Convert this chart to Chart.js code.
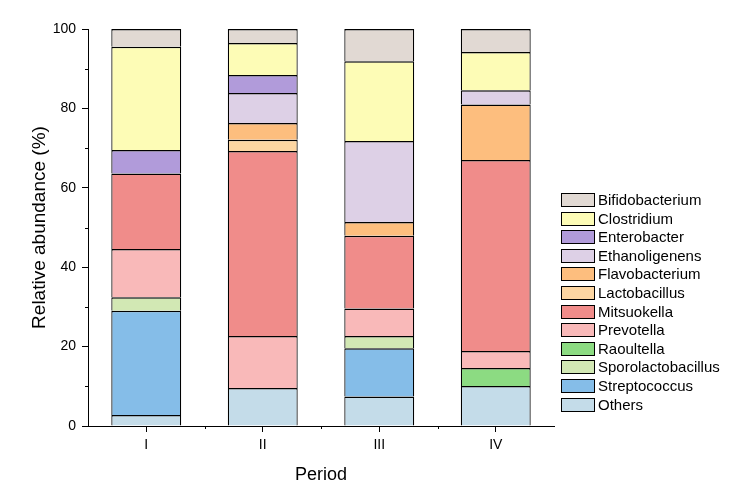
<!DOCTYPE html>
<html>
<head>
<meta charset="utf-8">
<title>Relative abundance by period</title>
<script src="https://cdn.jsdelivr.net/npm/chart.js@4.4.1/dist/chart.umd.min.js"></script>
<style>
  html, body { margin: 0; padding: 0; background: #fff; }
  #wrap { width: 751px; height: 486px; }
</style>
</head>
<body>
<div id="wrap"><canvas id="abundanceChart" width="751" height="486"></canvas></div>
<script>
// Categories (x axis)
const periods = ['I', 'II', 'III', 'IV'];

// Genera, stacked from bottom to top
const genera = ['Others', 'Streptococcus', 'Sporolactobacillus', 'Raoultella', 'Prevotella',
    'Mitsuokella', 'Lactobacillus', 'Flavobacterium', 'Ethanoligenens', 'Enterobacter',
    'Clostridium', 'Bifidobacterium'];

// Relative abundance (%) per genus, for periods I..IV
const others             = [2.8, 9.6, 7.4, 10.1];
const streptococcus      = [26.2, 0, 12.2, 0];
const sporolactobacillus = [3.4, 0, 3.1, 0];
const raoultella         = [0, 0, 0, 4.5];
const prevotella         = [12.2, 13.1, 6.9, 4.3];
const mitsuokella        = [19.0, 46.6, 18.3, 48.1];
const lactobacillus      = [0, 2.8, 0, 0];
const flavobacterium     = [0, 4.2, 3.5, 14.0];
const ethanoligenens     = [0, 7.6, 20.4, 3.6];
const enterobacter       = [5.9, 4.5, 0, 0];
const clostridium        = [26.0, 8.1, 20.1, 9.6];
const bifidobacterium    = [4.5, 3.5, 8.1, 5.8];

const seriesValues = [others, streptococcus, sporolactobacillus, raoultella, prevotella,
    mitsuokella, lactobacillus, flavobacterium, ethanoligenens, enterobacter,
    clostridium, bifidobacterium];

// Y axis ticks
const yTickLabels = [0, 20, 40, 60, 80, 100];

// Fill colours, same order as genera
const colors = ['#c4dce9', '#85bde8', '#d2e8b4', '#8cdb82', '#f9b9b9',
    '#f08c8a', '#fdd6a2', '#fdbe7e', '#ddd0e6', '#b19bda',
    '#fdfcb6', '#e1d9d3'];

const FONT = 'Arial, "Liberation Sans", sans-serif';

// Minor ticks on both axes
const minorTicks = {
    id: 'minorTicks',
    afterDraw(chart) {
        const ctx = chart.ctx;
        const x = chart.scales.x;
        const y = chart.scales.y;
        ctx.save();
        ctx.strokeStyle = '#000';
        ctx.lineWidth = 1;
        ctx.beginPath();
        for (let v = 10; v < 100; v += 20) {
            const py = Math.round(y.getPixelForValue(v)) + 0.5;
            ctx.moveTo(x.left - 3, py);
            ctx.lineTo(x.left, py);
        }
        const step = (x.right - x.left) / periods.length;
        for (let i = 1; i < periods.length; i++) {
            const px = Math.round(x.left + step * i) + 0.5;
            ctx.moveTo(px, y.bottom);
            ctx.lineTo(px, y.bottom + 3);
        }
        ctx.stroke();
        ctx.restore();
    }
};

// Legend on the right, top entry is the top of the stack
const sideLegend = {
    id: 'sideLegend',
    afterDraw(chart) {
        const ctx = chart.ctx;
        const left = 561, top = 193, rowH = 18.6, boxW = 33, boxH = 13;
        ctx.save();
        ctx.font = '15px ' + FONT;
        ctx.textBaseline = 'middle';
        ctx.textAlign = 'left';
        for (let i = 0; i < genera.length; i++) {
            const k = genera.length - 1 - i;
            const yy = Math.round(top + i * rowH);
            ctx.fillStyle = colors[k];
            ctx.fillRect(left, yy, boxW, boxH);
            ctx.strokeStyle = '#000';
            ctx.lineWidth = 1;
            ctx.strokeRect(left + 0.5, yy + 0.5, boxW, boxH);
            ctx.fillStyle = '#000';
            ctx.fillText(genera[k], left + boxW + 4, yy + boxH / 2 + 1);
        }
        ctx.restore();
    }
};

function initChart() {
    const ctx = document.getElementById('abundanceChart').getContext('2d');

    // zero shares are left out so they leave no border line in the stack;
    // each segment draws only its top and sides so boundaries stay single lines
    const datasets = genera.map((name, i) => ({
        label: name,
        data: seriesValues[i].map(v => (v === 0 ? null : v)),
        backgroundColor: colors[i],
        borderColor: '#000',
        borderWidth: { top: 1.5, left: 1.2, right: 1.2, bottom: 0 },
        borderSkipped: false,
        barPercentage: 0.6,
        categoryPercentage: 1.0
    }));

    new Chart(ctx, {
        type: 'bar',
        data: { labels: periods, datasets: datasets },
        options: {
            responsive: false,
            animation: false,
            layout: { padding: { left: 28, right: 197, top: 29, bottom: 0 } },
            plugins: {
                legend: { display: false },
                tooltip: { enabled: false }
            },
            scales: {
                x: {
                    stacked: true,
                    grid: {
                        display: true,
                        drawOnChartArea: false,
                        drawTicks: true,
                        tickLength: 6,
                        offset: false,
                        color: '#000'
                    },
                    border: { display: true, color: '#000', width: 1 },
                    ticks: { color: '#000', font: { size: 14, family: FONT }, padding: 5 },
                    title: {
                        display: true,
                        text: 'Period',
                        color: '#000',
                        font: { size: 18, family: FONT },
                        padding: { top: 3, bottom: 0 }
                    },
                    afterFit(scale) { scale.height = 60; }
                },
                y: {
                    stacked: true,
                    min: 0,
                    max: 100,
                    afterBuildTicks(scale) {
                        scale.ticks = yTickLabels.map(v => ({ value: v }));
                    },
                    grid: {
                        display: true,
                        drawOnChartArea: false,
                        drawTicks: true,
                        tickLength: 6,
                        color: '#000'
                    },
                    border: { display: true, color: '#000', width: 1 },
                    ticks: { color: '#000', font: { size: 14, family: FONT }, padding: 6 },
                    title: {
                        display: true,
                        text: 'Relative abundance (%)',
                        color: '#000',
                        font: { size: 19, family: FONT },
                        padding: { top: 0, bottom: 2 }
                    },
                    afterFit(scale) { scale.width = 60; }
                }
            }
        },
        plugins: [minorTicks, sideLegend]
    });
}

document.addEventListener('DOMContentLoaded', initChart);
</script>
</body>
</html>
